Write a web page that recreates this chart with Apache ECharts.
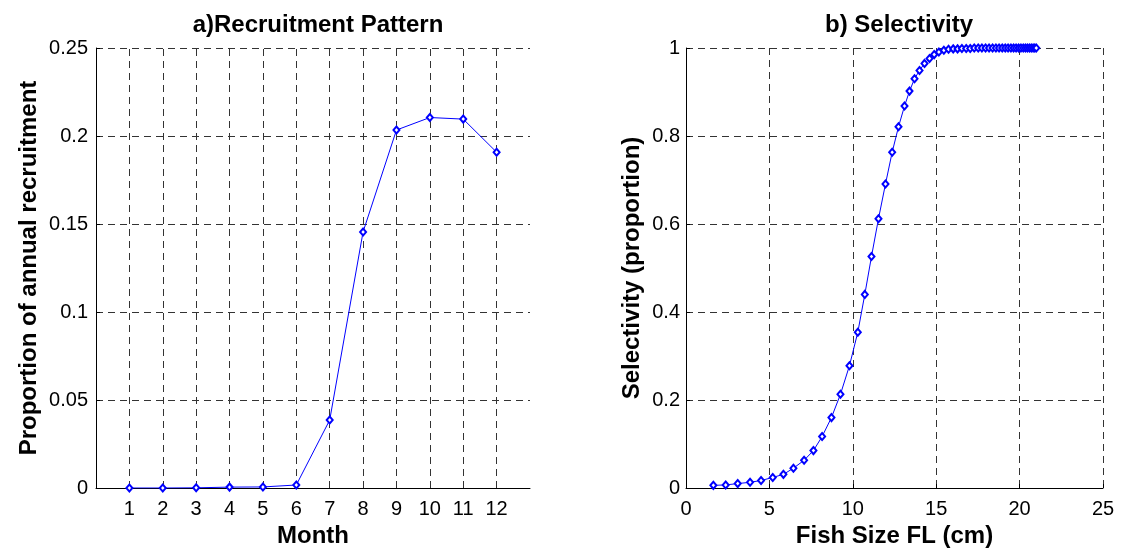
<!DOCTYPE html>
<html>
<head>
<meta charset="utf-8">
<script src="https://cdn.jsdelivr.net/npm/echarts@6/dist/echarts.min.js"></script>
<style>
html,body{margin:0;padding:0;background:#fff;}
#chart{width:1142px;height:548px;}
</style>
</head>
<body>
<div id="chart"></div>
<script>
// ---- data ----
const months = [1, 2, 3, 4, 5, 6, 7, 8, 9, 10, 11, 12];
const recruitment = [0.0000, 0.0000, 0.0001, 0.0005, 0.0006, 0.0017, 0.0386, 0.1455, 0.2034, 0.2105, 0.2096, 0.1908];

const fishSizeFL = [1.64, 2.38, 3.10, 3.84, 4.50, 5.20, 5.84, 6.44, 7.08, 7.64,
  8.16, 8.72, 9.26, 9.80, 10.30, 10.72, 11.12, 11.54, 11.96, 12.36,
  12.74, 13.10, 13.40, 13.70, 14.00, 14.30, 14.60, 14.88, 15.16, 15.46,
  15.74, 16.02, 16.28, 16.54, 16.80, 17.04, 17.28, 17.52, 17.74, 17.96,
  18.17, 18.38, 18.58, 18.77, 18.96, 19.14, 19.31, 19.48, 19.64, 19.79,
  19.94, 20.08, 20.22, 20.35, 20.47, 20.59, 20.70, 20.81, 20.91, 21.00];
const selectivity = [0.006, 0.007, 0.010, 0.013, 0.017, 0.024, 0.031, 0.045, 0.063, 0.085,
  0.117, 0.160, 0.213, 0.278, 0.354, 0.440, 0.526, 0.612, 0.691, 0.763,
  0.821, 0.868, 0.902, 0.930, 0.949, 0.965, 0.976, 0.985, 0.991, 0.995,
  0.997, 0.998, 0.998, 0.999, 0.999, 0.999, 1.000, 1.000, 1.000, 1.000,
  1.000, 1.000, 1.000, 1.000, 1.000, 1.000, 1.000, 1.000, 1.000, 1.000,
  1.000, 1.000, 1.000, 1.000, 1.000, 1.000, 1.000, 1.000, 1.000, 1.000];

const titleA = 'a)Recruitment Pattern';
const titleB = 'b) Selectivity';
const xNameA = 'Month';
const yNameA = 'Proportion of annual recruitment';
const xNameB = 'Fish Size FL (cm)';
const yNameB = 'Selectivity (proportion)';

// ---- chart ----
const FONT = '"Liberation Sans", Arial, sans-serif';
const gridDash = {type: [7, 5], color: '#333', width: 1};
const labelStyle = {color: '#000', fontSize: 20, fontFamily: FONT};
const nameStyle = {color: '#000', fontSize: 24, fontWeight: 'bold', fontFamily: FONT};
const blue = '#0000ff';

const chart = echarts.init(document.getElementById('chart'), null, {renderer: 'canvas'});
chart.setOption({
  animation: false,
  backgroundColor: '#fff',
  title: [
    {text: titleA, left: 313, top: 8, textAlign: 'center',
     textStyle: {color: '#000', fontSize: 24, fontWeight: 'bold', fontFamily: FONT}},
    {text: titleB, left: 894, top: 8, textAlign: 'center',
     textStyle: {color: '#000', fontSize: 24, fontWeight: 'bold', fontFamily: FONT}}
  ],
  grid: [
    {left: 96, top: 48, width: 434, height: 440, containLabel: false, outerBoundsMode: 'none'},
    {left: 686, top: 48, width: 417, height: 440, containLabel: false, outerBoundsMode: 'none'}
  ],
  xAxis: [
    {type: 'value', gridIndex: 0, min: 0, max: 13, interval: 1,
     name: xNameA, nameLocation: 'middle', nameGap: 36, nameTextStyle: nameStyle,
     axisLine: {show: true, onZero: false, lineStyle: {color: '#000', width: 1}},
     axisTick: {show: false},
     axisLabel: Object.assign({margin: 11, formatter: v => (v >= 1 && v <= 12) ? String(v) : ''}, labelStyle),
     splitLine: {show: false}},
    {type: 'value', gridIndex: 1, min: 0, max: 25, interval: 5,
     name: xNameB, nameLocation: 'middle', nameGap: 36, nameTextStyle: nameStyle,
     axisLine: {show: true, onZero: false, lineStyle: {color: '#000', width: 1}},
     axisTick: {show: true, inside: true, length: 4, lineStyle: {color: '#000'}},
     axisLabel: Object.assign({margin: 11}, labelStyle),
     splitLine: {show: true, lineStyle: gridDash}}
  ],
  yAxis: [
    {type: 'value', gridIndex: 0, min: 0, max: 0.25, interval: 0.05,
     name: yNameA, nameLocation: 'middle', nameGap: 55, nameTextStyle: nameStyle,
     axisLine: {show: true, onZero: false, lineStyle: {color: '#000', width: 1}},
     axisTick: {show: true, inside: true, length: 4, lineStyle: {color: '#000'}},
     axisLabel: Object.assign({margin: 8}, labelStyle),
     splitLine: {show: true, lineStyle: gridDash}},
    {type: 'value', gridIndex: 1, min: 0, max: 1, interval: 0.2,
     name: yNameB, nameLocation: 'middle', nameGap: 42, nameTextStyle: nameStyle,
     axisLine: {show: true, onZero: false, lineStyle: {color: '#000', width: 1}},
     axisTick: {show: true, inside: true, length: 4, lineStyle: {color: '#000'}},
     axisLabel: Object.assign({margin: 6}, labelStyle),
     splitLine: {show: true, lineStyle: gridDash}}
  ],
  series: [
    {type: 'line', xAxisIndex: 0, yAxisIndex: 0,
     data: months.map((m, i) => [m, recruitment[i]]),
     symbol: 'emptyDiamond', symbolSize: [6, 7], showAllSymbol: true,
     lineStyle: {color: blue, width: 1},
     itemStyle: {color: blue, borderColor: blue, borderWidth: 1},
     z: 5,
     markLine: {
       silent: true, symbol: 'none', label: {show: false},
       lineStyle: gridDash, z: 1,
       data: months.map(m => ({xAxis: m}))
     }},
    {type: 'line', xAxisIndex: 1, yAxisIndex: 1,
     data: fishSizeFL.map((x, i) => [x, selectivity[i]]),
     symbol: 'emptyDiamond', symbolSize: [6, 7], showAllSymbol: true,
     lineStyle: {color: blue, width: 1},
     itemStyle: {color: blue, borderColor: blue, borderWidth: 1},
     z: 5}
  ]
});
</script>
</body>
</html>
